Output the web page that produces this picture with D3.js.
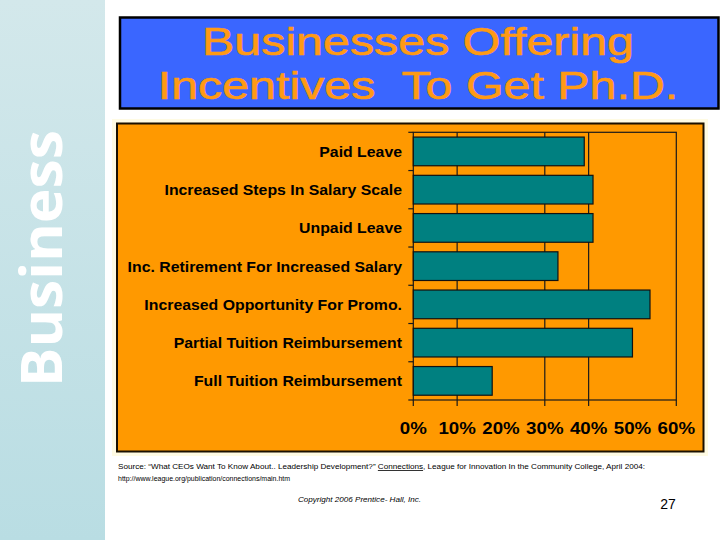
<!DOCTYPE html>
<html><head><meta charset="utf-8">
<script src="https://cdn.jsdelivr.net/npm/d3@7"></script>
<style>html,body{margin:0;padding:0;background:#fff;}svg{display:block;}</style>
</head><body>
<svg id="c" width="720" height="540"></svg>
<script>
// ---- data ----
const categories = [
  "Paid Leave",
  "Increased Steps In Salary Scale",
  "Unpaid Leave",
  "Inc. Retirement For Increased Salary",
  "Increased Opportunity For Promo.",
  "Partial Tuition Reimbursement",
  "Full Tuition Reimbursement"
];
const values = [0.39, 0.41, 0.41, 0.33, 0.54, 0.50, 0.18];
const tickValues = [0, 0.1, 0.2, 0.3, 0.4, 0.5, 0.6];
const gridValues = [0.1, 0.3, 0.4];          // gridlines visible in the original
const tickMarkValues = [0, 0.1, 0.3, 0.4, 0.6];
const titleLines = ["Businesses Offering", "Incentives  To Get Ph.D."];
const sideLabel = "Business";
const sourcePre = "Source: \u201CWhat CEOs Want To Know About.. Leadership Development?\u201D ";
const sourceLink = "Connections";
const sourcePost = ", League for Innovation In the Community College, April 2004:";
const sourceLine2 = "http://www.league.org/publication/connections/main.htm";
const copyright = "Copyright 2006 Prentice- Hall, Inc.";
const pageNum = "27";

// ---- drawing ----
const svg = d3.select("#c");
const ARIAL = "Arial, 'Liberation Sans', sans-serif";

function stretch(sel, k) {
  sel.each(function () {
    const L = this.getComputedTextLength();
    this.setAttribute("textLength", L * k);
    this.setAttribute("lengthAdjust", "spacingAndGlyphs");
  });
}
function fitTo(sel, w) {
  sel.attr("textLength", w).attr("lengthAdjust", "spacingAndGlyphs");
}

// sidebar
const defs = svg.append("defs");
const g1 = defs.append("linearGradient").attr("id", "side").attr("x1", 0).attr("y1", 0).attr("x2", 0).attr("y2", 1);
g1.append("stop").attr("offset", "0%").attr("stop-color", "#d3e8eb");
g1.append("stop").attr("offset", "100%").attr("stop-color", "#b9dde3");
svg.append("rect").attr("x", 0).attr("y", 0).attr("width", 105).attr("height", 540).attr("fill", "url(#side)");
const side = svg.append("text")
  .attr("transform", "translate(62,258.5) rotate(-90)")
  .attr("text-anchor", "middle")
  .attr("font-family", "'Open Sans', 'DejaVu Sans', sans-serif")
  .attr("font-weight", "bold").attr("font-size", 58)
  .attr("fill", "#ffffff").text(sideLabel);
fitTo(side, 257);

// title box
svg.append("rect").attr("x", 120).attr("y", 17.5).attr("width", 598.5).attr("height", 91)
  .attr("fill", "#3a66ff").attr("stroke", "#000").attr("stroke-width", 2.5);
const tl = svg.selectAll("text.title").data(titleLines).join("text")
  .attr("class", "title")
  .attr("x", 418).attr("y", (d, i) => 55 + i * 44)
  .attr("text-anchor", "middle")
  .attr("font-family", ARIAL).attr("font-size", 39)
  .attr("fill", "#ff9a14").attr("stroke", "#ff9a14").attr("stroke-width", 0.6)
  .style("white-space", "pre")
  .text(d => d);
stretch(tl, 1.24);

// chart box
svg.append("rect").attr("x", 112).attr("y", 119).attr("width", 596).attr("height", 337).attr("fill", "#fffbe3");
svg.append("rect").attr("x", 117).attr("y", 123.5).attr("width", 586.5).attr("height", 328)
  .attr("fill", "#ff9900").attr("stroke", "#1a1000").attr("stroke-width", 2);

const x = d3.scaleLinear().domain([0, 0.6]).range([413.3, 676.3]);
const y = d3.scaleBand().domain(categories).range([132.3, 400]).paddingInner(0.25).paddingOuter(0.125);

const plot = svg.append("g");
// gridlines
plot.selectAll("line.grid").data(gridValues).join("line")
  .attr("x1", d => x(d)).attr("x2", d => x(d))
  .attr("y1", y.range()[0]).attr("y2", y.range()[1])
  .attr("stroke", "#1a1a1a").attr("stroke-width", 1.2);
// frame
plot.append("rect")
  .attr("x", x(0)).attr("y", y.range()[0])
  .attr("width", x(0.6) - x(0)).attr("height", y.range()[1] - y.range()[0])
  .attr("fill", "none").attr("stroke", "#1a1a1a").attr("stroke-width", 1.2);

// bars
plot.selectAll("rect.bar").data(values).join("rect")
  .attr("class", "bar")
  .attr("x", x(0)).attr("y", (d, i) => y(categories[i]))
  .attr("width", d => x(d) - x(0)).attr("height", y.bandwidth())
  .attr("fill", "#008080").attr("stroke", "#111").attr("stroke-width", 1.2);

// y category ticks at band boundaries
const bounds = d3.range(categories.length + 1).map(i => y.range()[0] + i * y.step());
plot.selectAll("line.ytick").data(bounds).join("line")
  .attr("x1", x(0) - 5).attr("x2", x(0))
  .attr("y1", d => d).attr("y2", d => d)
  .attr("stroke", "#1a1a1a").attr("stroke-width", 1.2);
// x tick marks
plot.selectAll("line.xtick").data(tickMarkValues).join("line")
  .attr("x1", d => x(d)).attr("x2", d => x(d))
  .attr("y1", y.range()[1]).attr("y2", y.range()[1] + 6)
  .attr("stroke", "#1a1a1a").attr("stroke-width", 1.2);

// y labels
const yl = plot.selectAll("text.ylab").data(categories).join("text")
  .attr("x", 402).attr("y", d => y(d) + y.bandwidth() / 2)
  .attr("dy", "0.36em").attr("text-anchor", "end")
  .attr("font-family", ARIAL).attr("font-weight", "bold").attr("font-size", 15)
  .attr("fill", "#000").text(d => d);
stretch(yl, 1.055);

// x labels
const fmt = d3.format(".0%");
const xl = plot.selectAll("text.xlab").data(tickValues).join("text")
  .attr("x", d => x(d)).attr("y", 434).attr("text-anchor", "middle")
  .attr("font-family", ARIAL).attr("font-weight", "bold").attr("font-size", 17)
  .attr("fill", "#000").text(d => fmt(d));
stretch(xl, 1.1);

// source
const s1 = svg.append("text").attr("x", 118).attr("y", 469)
  .attr("font-family", ARIAL).attr("font-size", 8).attr("fill", "#000");
s1.append("tspan").text(sourcePre);
s1.append("tspan").attr("text-decoration", "underline").text(sourceLink);
s1.append("tspan").text(sourcePost);
fitTo(s1, 527);
const s2 = svg.append("text").attr("x", 118).attr("y", 481)
  .attr("font-family", ARIAL).attr("font-size", 8).attr("fill", "#000").text(sourceLine2);
fitTo(s2, 172);

const cp = svg.append("text").attr("x", 298).attr("y", 502)
  .attr("font-family", ARIAL).attr("font-style", "italic").attr("font-size", 8)
  .attr("fill", "#000").text(copyright);
fitTo(cp, 123);

svg.append("text").attr("x", 668).attr("y", 509).attr("text-anchor", "middle")
  .attr("font-family", ARIAL).attr("font-size", 14).attr("fill", "#000").text(pageNum);
</script>
</body></html>
